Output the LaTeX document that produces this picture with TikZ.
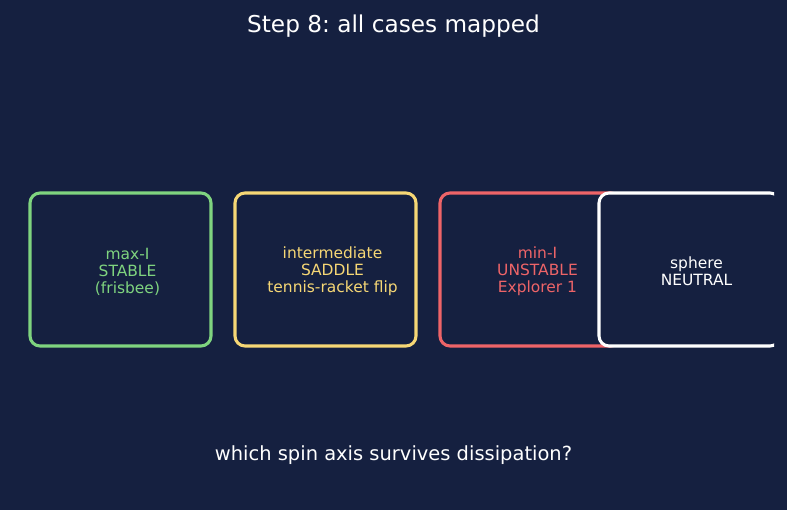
\documentclass[tikz,border=0pt]{standalone}
\usepackage{fontspec}
\setmainfont{DejaVu Sans}
\usetikzlibrary{positioning}
\frenchspacing
\definecolor{mbg}{HTML}{152040}
\definecolor{mgreen}{HTML}{7FD47F}
\definecolor{myellow}{HTML}{F6D775}
\definecolor{mred}{HTML}{EE6468}
\tikzset{case/.style = {draw, rounded corners = 7.5, line width = 2.3,
                        fill = mbg, inner sep = 0,
                        minimum width = 135.75pt, minimum height = 114.75pt}}
\tikzset{caselabel/.style = {align = center, inner sep = 0,
                             font = \fontsize{11.6}{12.75}\selectfont}}

\begin{document}
\begin{tikzpicture}[x = 0.75pt, y = -0.75pt]
      \fill [mbg] (0, 0) rectangle (787, 510);
      \useasboundingbox (0, 0) rectangle (787, 510);

      \node [font = \fontsize{17.4}{20}\selectfont, white] (title) at (393.5, 26) {Step 8: all cases mapped};

      \node [case, draw = mgreen] (maxI) at (120.5, 269.5) {};
      \node [case, draw = myellow] (midI) at (325.5, 269.5) {};
      \node [case, draw = mred] (minI) at (530.5, 269.5) {};
      \begin{scope}
        \clip (0, 0) rectangle (774, 510);
        \node [case, draw = white] (sphere) at (689.5, 269.5) {};
      \end{scope}

      \node [caselabel, mgreen] (maxIlbl) at ([xshift = 5.25pt, yshift = -1.5pt] maxI.center) {max-I\\STABLE\\(frisbee)};
      \node [caselabel, myellow] (midIlbl) at ([xshift = 5.25pt, yshift = -1.5pt] midI.center) {intermediate\\SADDLE\\tennis-racket flip};
      \node [caselabel, mred] (minIlbl) at ([xshift = 5.25pt, yshift = -1.5pt] minI.center) {min-I\\UNSTABLE\\Explorer 1};
      \node [caselabel, white] (spherelbl) at ([xshift = 5.25pt, yshift = -1.5pt] sphere.center) {sphere\\NEUTRAL};

      \node [font = \fontsize{14.6}{17}\selectfont, white] (question) at (393.5, 455) {which spin axis survives dissipation?};
    \end{tikzpicture}
\end{document}
